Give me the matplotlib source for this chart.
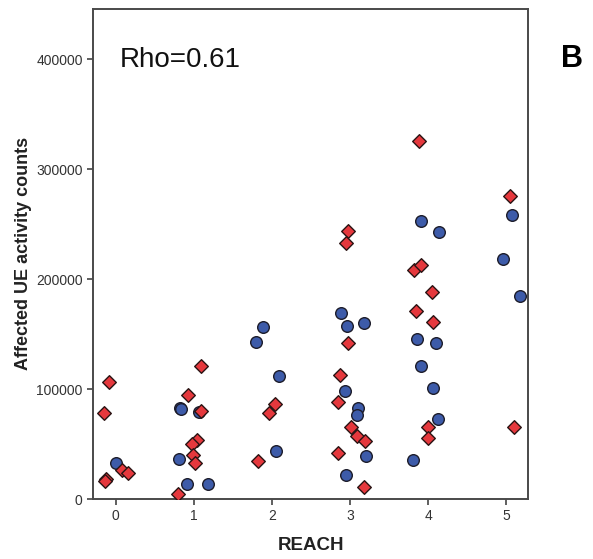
import matplotlib
matplotlib.use('Agg')
import matplotlib.pyplot as plt

plt.rcParams['font.family'] = ['Liberation Sans', 'DejaVu Sans']

# REACH score (jittered) and activity counts, two groups
reach_circ = [0.004, 0.82, 0.835, 1.068, 0.804, 0.911, 1.175,
              1.89, 1.80, 2.09, 2.05,
              2.886, 2.954, 3.175, 2.93, 3.094, 3.086, 3.197, 2.94,
              3.91, 4.14, 3.85, 4.10, 3.91, 4.06, 4.125, 3.80,
              5.07, 4.96, 5.17]
counts_circ = [33100, 82500, 81500, 79500, 36700, 13400, 13700,
               156100, 142400, 112300, 43500,
               169500, 157000, 160400, 98400, 82600, 76500, 39500, 21900,
               252700, 243000, 145200, 142100, 120900, 101100, 73200, 35200,
               258100, 218000, 184300]

reach_diam = [-0.086, -0.153, -0.128, -0.14, 0.077, 0.161,
              0.93, 1.086, 1.086, 1.04, 0.974, 0.99, 1.008, 0.80,
              2.04, 1.96, 1.82,
              2.975, 2.94, 2.97, 2.87, 2.85, 3.01, 3.09, 3.19, 2.84, 3.175,
              3.88, 3.82, 3.91, 4.05, 3.84, 4.065, 4.00, 4.00,
              5.05, 5.10]
counts_diam = [106900, 78400, 17950, 16800, 26100, 24000,
               94800, 120900, 80200, 53500, 49800, 40400, 32500, 4500,
               86600, 78400, 34300,
               243600, 233000, 142100, 112700, 88700, 65600, 57100, 52600, 42200, 11200,
               325600, 208700, 213200, 188600, 170700, 161000, 65600, 55600,
               275800, 65600]

x_ticks = [0, 1, 2, 3, 4, 5]
y_ticks = [0, 100000, 200000, 300000, 400000]

fig = plt.figure(figsize=(5.93, 5.59), dpi=100)
ax = fig.add_axes([0.157, 0.1073, 0.734, 0.877])

ax.scatter(reach_circ, counts_circ, s=70, marker='o', color='#3d5ba9',
           edgecolor='#1c1c2a', linewidth=1.0, zorder=3)
ax.scatter(reach_diam, counts_diam, s=48, marker='D', color='#e5383d',
           edgecolor='#2a1414', linewidth=1.0, zorder=4)

ax.set_xlim(-0.29, 5.28)
ax.set_ylim(0, 446000)
ax.set_xticks(x_ticks)
ax.set_yticks(y_ticks)
ax.set_xticklabels([str(t) for t in x_ticks])
ax.set_yticklabels([str(t) for t in y_ticks])
ax.tick_params(axis='both', colors='#444444', labelsize=10, length=4, width=1.2,
               labelcolor='#333333')

for sp in ax.spines.values():
    sp.set_color('#4a4a4a')
    sp.set_linewidth(1.4)

ax.set_xlabel('REACH', fontsize=13.5, fontweight='bold', color='#222222', labelpad=10)
ax.set_ylabel('Affected UE activity counts', fontsize=13, fontweight='bold',
              color='#222222', labelpad=3)

ax.text(0.062, 0.882, 'Rho=0.61', transform=ax.transAxes, fontsize=20,
        va='baseline', ha='left', color='#111111')
fig.text(0.965, 0.895, 'B', fontsize=22, fontweight='bold', ha='center', va='center')

fig.savefig('out.png', dpi=100)
